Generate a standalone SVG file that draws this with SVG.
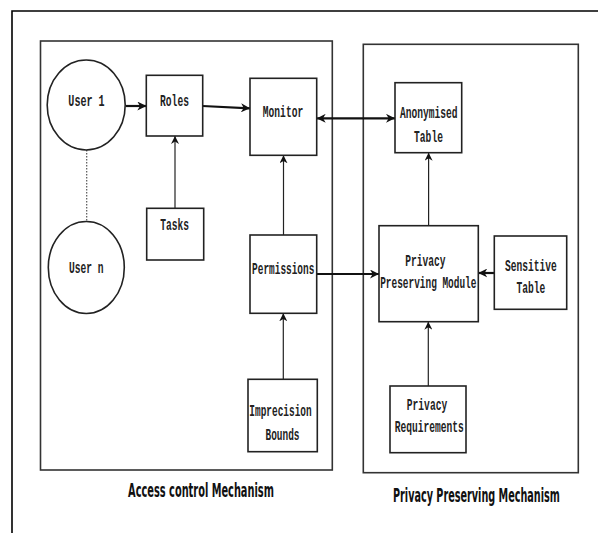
<svg xmlns="http://www.w3.org/2000/svg" width="598" height="533" viewBox="0 0 598 533">
<style>
.frame{fill:none;stroke:#000;stroke-width:1.6}
.cont{fill:none;stroke:#333;stroke-width:1.6}
.box{fill:#fff;stroke:#222;stroke-width:1.6}
.t{font-family:"Liberation Mono","Courier New",monospace;font-weight:bold;font-size:16px;fill:#222;text-anchor:middle}
.lbl{font-family:"DejaVu Sans Condensed","DejaVu Sans",sans-serif;font-weight:bold;font-size:20px;fill:#111;text-anchor:middle}
.thin{fill:none;stroke:#222;stroke-width:1.2}
.thick{fill:none;stroke:#111;stroke-width:2.2}
.dot{fill:none;stroke:#555;stroke-width:1.2;stroke-dasharray:1.5 1.5}
</style>
<defs>
<marker id="ah" viewBox="0 0 10 10" refX="10" refY="5" markerWidth="8" markerHeight="8" markerUnits="userSpaceOnUse" orient="auto-start-reverse">
<path d="M0,0 L10,5 L0,10 L3,5 Z" fill="#111"/>
</marker>
<marker id="ahb" viewBox="0 0 10 10" refX="10" refY="5" markerWidth="9" markerHeight="9" markerUnits="userSpaceOnUse" orient="auto-start-reverse">
<path d="M0,0 L10,5 L0,10 L3,5 Z" fill="#111"/>
</marker>
</defs>
<rect width="598" height="533" fill="#fff"/>
<path class="frame" d="M12,533 L12,11 L598,11"/>

<g id="access-control-mechanism">
<rect class="cont" x="40.5" y="41" width="291.8" height="429"/>
<text class="lbl" transform="translate(201,497) scale(0.6,1)" x="0" y="0" textLength="243" lengthAdjust="spacingAndGlyphs">Access control Mechanism</text>
</g>
<g id="privacy-preserving-mechanism">
<rect class="cont" x="363.3" y="44.3" width="215" height="428.4"/>
<text class="lbl" transform="translate(476.4,502) scale(0.6,1)" x="0" y="0" textLength="278" lengthAdjust="spacingAndGlyphs">Privacy Preserving Mechanism</text>
</g>

<g id="connectors">
<line class="dot" x1="86.7" y1="150" x2="86.7" y2="228"/>
<line class="thick" x1="125.7" y1="106" x2="146.3" y2="106" marker-end="url(#ahb)"/>
<line class="thick" x1="202.7" y1="106" x2="250" y2="108.3" marker-end="url(#ahb)"/>
<line class="thin" x1="175" y1="208.3" x2="175" y2="136" marker-end="url(#ah)"/>
<line class="thin" x1="283.5" y1="235" x2="283.5" y2="155.3" marker-end="url(#ah)"/>
<line class="thin" x1="283.3" y1="379.3" x2="283.3" y2="313.3" marker-end="url(#ah)"/>
<line class="thick" x1="316.7" y1="274" x2="379" y2="274" marker-end="url(#ahb)"/>
<line class="thick" x1="494.3" y1="273" x2="478.3" y2="273" marker-end="url(#ahb)"/>
<line class="thin" x1="428.3" y1="386" x2="428.3" y2="321.7" marker-end="url(#ah)"/>
<line class="thin" x1="428.6" y1="225.7" x2="428.6" y2="152.7" marker-end="url(#ah)"/>
<line class="thick" x1="316.7" y1="118.3" x2="395" y2="118.3" marker-start="url(#ahb)" marker-end="url(#ahb)"/>
</g>

<g id="user1">
<ellipse class="box" cx="86.2" cy="105" rx="39" ry="45"/>
<text class="t" transform="translate(86.5,105.5) scale(0.63,1)">User 1</text>
</g>
<g id="usern">
<ellipse class="box" cx="86.3" cy="267.5" rx="38" ry="46"/>
<text class="t" transform="translate(86.2,273) scale(0.6,1)">User n</text>
</g>
<g id="roles">
<rect class="box" x="146.3" y="75.3" width="56.4" height="60.7"/>
<text class="t" transform="translate(174.5,105.5) scale(0.6,1)">Roles</text>
</g>
<g id="tasks">
<rect class="box" x="146.7" y="208.3" width="57" height="51.7"/>
<text class="t" transform="translate(174.7,229.8) scale(0.6,1)">Tasks</text>
</g>
<g id="monitor">
<rect class="box" x="250" y="78.3" width="66.7" height="77"/>
<text class="t" transform="translate(283,116.5) scale(0.6,1)">Monitor</text>
</g>
<g id="permissions">
<rect class="box" x="250" y="235" width="66.7" height="78.3"/>
<text class="t" transform="translate(283.2,273.8) scale(0.59,1)">Permissions</text>
</g>
<g id="imprecision-bounds">
<rect class="box" x="248" y="379.3" width="69.3" height="72.4"/>
<text class="t" transform="translate(280.5,415.5) scale(0.59,1)">Imprecision</text>
<text class="t" transform="translate(282.5,439.8) scale(0.59,1)">Bounds</text>
</g>
<g id="anonymised-table">
<rect class="box" x="395" y="82.7" width="66.7" height="70"/>
<text class="t" transform="translate(428.7,117.5) scale(0.6,1)">Anonymised</text>
<text class="t" transform="translate(428.5,142.1) scale(0.6,1)">Table</text>
</g>
<g id="privacy-preserving-module">
<rect class="box" x="379" y="225.7" width="99.3" height="96"/>
<text class="t" transform="translate(425.3,265.5) scale(0.6,1)">Privacy</text>
<text class="t" transform="translate(428.3,287.5) scale(0.59,1)">Preserving Module</text>
</g>
<g id="sensitive-table">
<rect class="box" x="494.3" y="236" width="72.4" height="73.3"/>
<text class="t" transform="translate(530.8,270.8) scale(0.6,1)">Sensitive</text>
<text class="t" transform="translate(530.8,293.1) scale(0.6,1)">Table</text>
</g>
<g id="privacy-requirements">
<rect class="box" x="390" y="386" width="76" height="66.7"/>
<text class="t" transform="translate(427,409.8) scale(0.6,1)">Privacy</text>
<text class="t" transform="translate(429.2,432.1) scale(0.6,1)">Requirements</text>
</g>
</svg>
